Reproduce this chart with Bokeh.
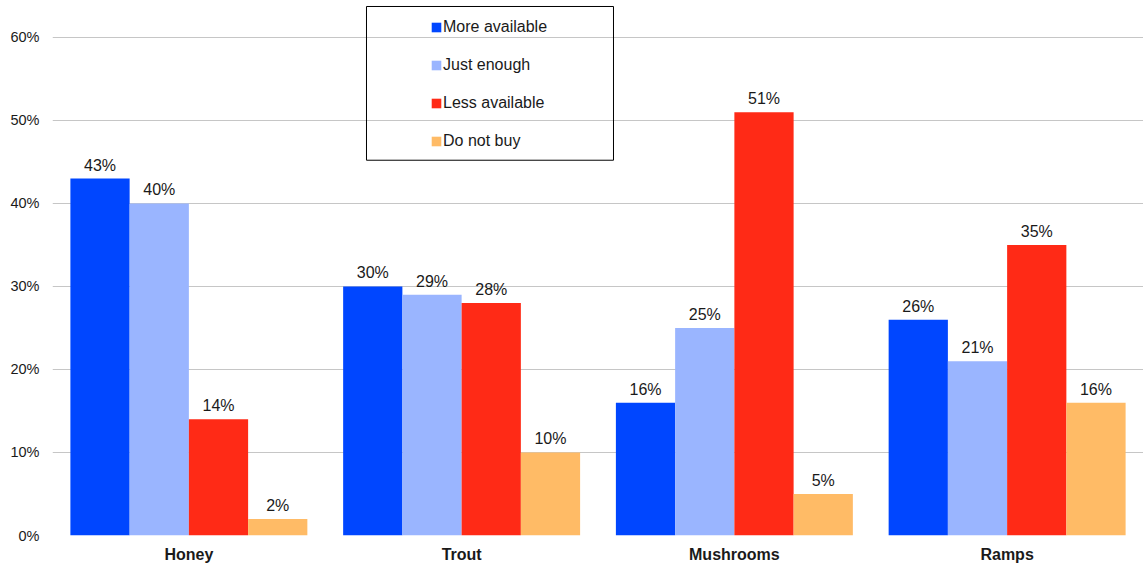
from bokeh.plotting import figure
from bokeh.models import (ColumnDataSource, FactorRange, Range1d, FixedTicker,
                          PrintfTickFormatter, Legend, LegendItem, BoxAnnotation)
from bokeh.transform import dodge
from bokeh.core.properties import value
from bokeh.embed import file_html
from bokeh.resources import INLINE

categories = ["Honey", "Trout", "Mushrooms", "Ramps"]
series_names = ["More available", "Just enough", "Less available", "Do not buy"]
more_available = [43, 30, 16, 26]
just_enough = [40, 29, 25, 21]
less_available = [14, 28, 51, 35]
do_not_buy = [2, 10, 5, 16]
y_ticks = [0, 10, 20, 30, 40, 50, 60]

colors = ["#0046ff", "#9ab5ff", "#ff2a16", "#ffbb66"]
series_values = [more_available, just_enough, less_available, do_not_buy]

FONT = "Liberation Sans"
bar_w = 0.2172
offsets = [-1.5 * bar_w, -0.5 * bar_w, 0.5 * bar_w, 1.5 * bar_w]

p = figure(x_range=FactorRange(*categories), y_range=Range1d(0, 63.97),
           width=1143, height=565, output_backend="svg", toolbar_location=None,
           min_border_left=52, min_border_right=0, min_border_top=4,
           min_border_bottom=29)
p.outline_line_color = None
p.background_fill_color = "white"

items = []
for name, vals, col, off in zip(series_names, series_values, colors, offsets):
    src = ColumnDataSource(dict(cat=categories, val=vals,
                                lbl=[f"{v}%" for v in vals]))
    r = p.vbar(x=dodge("cat", off, range=p.x_range), top="val", width=bar_w,
               source=src, fill_color=col, line_color=None)
    p.text(x=dodge("cat", off, range=p.x_range), y="val", text="lbl", source=src,
           text_align="center", text_baseline="bottom", y_offset=-5,
           text_font=value(FONT), text_font_size="16px", text_color="#1a1a1a")
    items.append(LegendItem(label=name, renderers=[r]))

# axes
p.yaxis.ticker = FixedTicker(ticks=y_ticks)
p.yaxis.formatter = PrintfTickFormatter(format="%d%%")
p.yaxis.axis_line_color = None
p.yaxis.major_tick_line_color = None
p.yaxis.minor_tick_line_color = None
p.yaxis.major_tick_out = 0
p.yaxis.major_label_standoff = 13
p.yaxis.major_label_text_font = FONT
p.yaxis.major_label_text_font_size = "14.5px"
p.yaxis.major_label_text_color = "#1a1a1a"

p.xaxis.axis_line_color = None
p.xaxis.major_tick_line_color = None
p.xaxis.minor_tick_line_color = None
p.xaxis.major_tick_out = 0
p.xaxis.major_label_standoff = 10
p.xaxis.major_label_text_font = FONT
p.xaxis.major_label_text_font_style = "bold"
p.xaxis.major_label_text_font_size = "16px"
p.xaxis.major_label_text_color = "#1a1a1a"

p.xgrid.grid_line_color = None
p.ygrid.ticker = FixedTicker(ticks=y_ticks)
p.ygrid.grid_line_color = "#c6c6c6"
p.ygrid.grid_line_width = 1

legend = Legend(items=items, location=(378, 384), padding=0, spacing=18,
                label_height=20, glyph_width=12, glyph_height=12, label_standoff=1,
                border_line_color=None, background_fill_alpha=0,
                label_text_font=FONT, label_text_font_size="16px",
                label_text_color="#1a1a1a")
p.add_layout(legend)

box = BoxAnnotation(left=1.1512, right=2.0568, bottom=45.21, top=63.73,
                    line_color="black", line_alpha=1, line_width=1,
                    fill_alpha=0)
p.add_layout(box)

open("out.html", "w").write(file_html(p, INLINE))
